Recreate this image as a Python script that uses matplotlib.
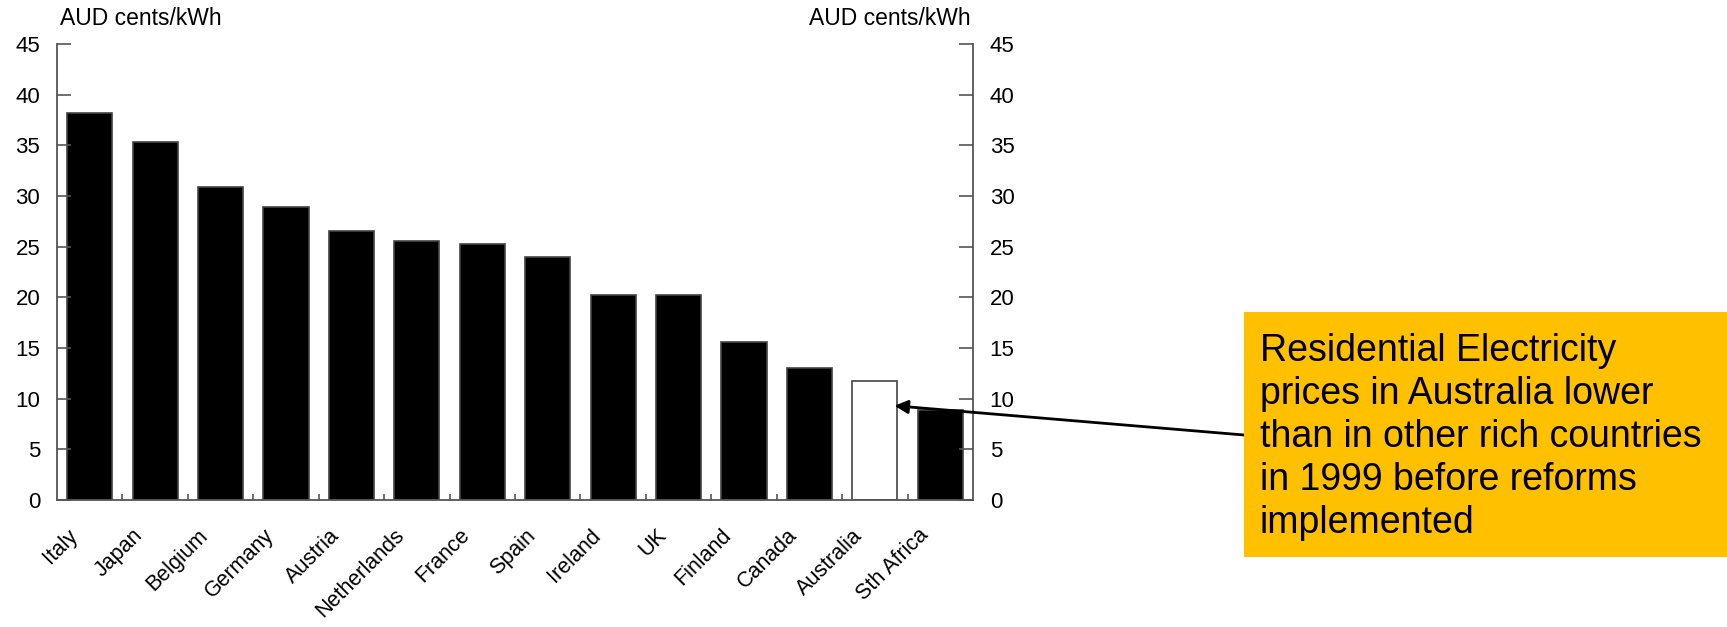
import matplotlib.pyplot as plt
from matplotlib.ticker import FixedLocator
from matplotlib.transforms import ScaledTranslation

plt.rcParams['font.family'] = ['Liberation Sans', 'DejaVu Sans']

# ── data: residential electricity prices, 1999 ───────────────────────────────
countries = ['Italy', 'Japan', 'Belgium', 'Germany', 'Austria', 'Netherlands',
             'France', 'Spain', 'Ireland', 'UK', 'Finland', 'Canada',
             'Australia', 'Sth Africa']
prices = [38.2, 35.3, 30.9, 28.9, 26.5, 25.6, 25.3, 24.0, 20.2, 20.2,
          15.6, 13.0, 11.7, 8.9]
highlight = 'Australia'
y_ticks = [0, 5, 10, 15, 20, 25, 30, 35, 40, 45]
unit_label = 'AUD cents/kWh'
note = ('Residential Electricity\nprices in Australia lower\n'
        'than in other rich countries\nin 1999 before reforms\nimplemented')

# ── figure ───────────────────────────────────────────────────────────────────
fig = plt.figure(figsize=(17.27, 6.27), dpi=100)
ax = fig.add_axes([0.033, 0.2026, 0.5304, 0.7272])

spine_col = '#555555'
face = ['white' if c == highlight else 'black' for c in countries]
x = range(len(countries))
ax.bar(x, prices, width=0.69, color=face, edgecolor='#444444', linewidth=1.2)

ax.set_xlim(-0.5, len(countries) - 0.5)
ax.set_ylim(0, 45)

for side in ['left', 'right', 'bottom']:
    ax.spines[side].set_color(spine_col)
    ax.spines[side].set_linewidth(1.3)
ax.spines['top'].set_visible(False)

ax.set_yticks(y_ticks)
ax.tick_params(axis='y', direction='in', length=10, width=1.2, color=spine_col,
               labelsize=16, left=True, right=True, labelleft=True,
               labelright=True, pad=12)

# category labels at bar centres, small ticks between bars
ax.set_xticks(list(x))
ax.set_xticklabels(countries, rotation=45, ha='right', fontsize=15.5)
ax.tick_params(axis='x', which='major', length=0, pad=18)
shift = ScaledTranslation(-8 / 100, 0, fig.dpi_scale_trans)
for lbl in ax.get_xticklabels():
    lbl.set_transform(lbl.get_transform() + shift)
ax.xaxis.set_minor_locator(FixedLocator([i + 0.5 for i in range(len(countries) - 1)]))
ax.tick_params(axis='x', which='minor', direction='in', length=4, width=1.2,
               color=spine_col)

ax.text(0.003, 1.03, unit_label, transform=ax.transAxes, fontsize=16.5,
        ha='left', va='bottom')
ax.text(0.997, 1.03, unit_label, transform=ax.transAxes, fontsize=16.5,
        ha='right', va='bottom')

# ── call-out box with arrow to the Australian bar ───────────────────────────
box_x0, box_y0, box_x1, box_y1 = 1244 / 1727, 1 - 557 / 627, 1.0, 1 - 312 / 627
fig.patches.append(plt.Rectangle((box_x0, box_y0), box_x1 - box_x0,
                                 box_y1 - box_y0, transform=fig.transFigure,
                                 facecolor='#FFC000', edgecolor='none'))
fig.text(box_x0 + 0.009, 0.3035, note, fontsize=27,
         ha='left', va='center', linespacing=1.25)

ax.annotate('', xy=(12.3, 9.3), xycoords='data',
            xytext=(box_x0, 1 - 435 / 627), textcoords='figure fraction',
            arrowprops=dict(arrowstyle='-|>', color='black', lw=2,
                            mutation_scale=20, shrinkA=0, shrinkB=0))

fig.savefig('out.png', dpi=100)
